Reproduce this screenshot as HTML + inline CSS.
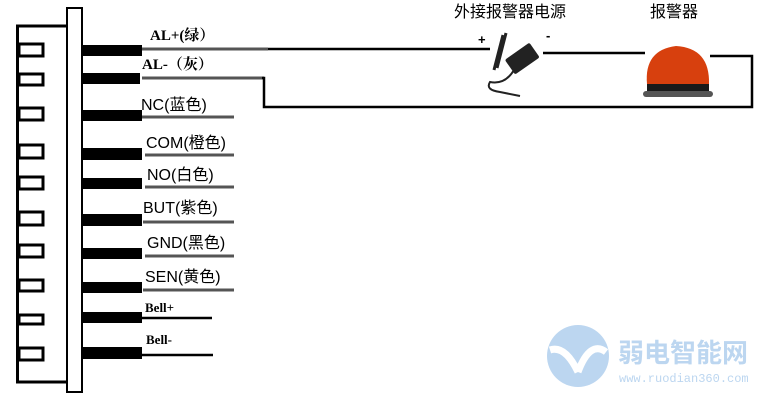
<!DOCTYPE html>
<html><head><meta charset="utf-8"><style>
body{margin:0;background:#fff;width:776px;height:400px;overflow:hidden}
svg{display:block}
.s{font-family:"Liberation Serif","Noto Serif CJK SC",serif;font-weight:bold;font-size:15px}
.a{font-family:"Liberation Sans","Noto Sans CJK SC",sans-serif;font-size:16px}
</style></head><body>
<svg width="776" height="400" viewBox="0 0 776 400">
<rect x="17.5" y="26" width="50" height="356" fill="#fff" stroke="#000" stroke-width="3"/>
<rect x="67" y="8" width="15" height="384" fill="#fff" stroke="#000" stroke-width="2"/>
<g fill="#fff" stroke="#000" stroke-width="3">
<rect x="19" y="44" width="24" height="12"/><rect x="19" y="74" width="24" height="11"/>
<rect x="19" y="108" width="24" height="12"/><rect x="19" y="145" width="24" height="13"/>
<rect x="19" y="177" width="24" height="12"/><rect x="19" y="212" width="24" height="13"/>
<rect x="19" y="245" width="24" height="12"/><rect x="19" y="280" width="24" height="11"/>
<rect x="19" y="315" width="24" height="9"/><rect x="19" y="348" width="24" height="12"/>
</g>
<g fill="#000">
<rect x="82" y="45" width="60" height="11"/><rect x="82" y="73" width="58" height="11"/>
<rect x="82" y="110" width="60" height="11"/><rect x="82" y="148" width="60" height="12"/>
<rect x="82" y="178" width="60" height="11"/><rect x="82" y="214" width="60" height="12"/>
<rect x="82" y="248" width="60" height="11"/><rect x="82" y="282" width="60" height="11"/>
<rect x="82" y="312" width="60" height="11"/><rect x="82" y="347" width="60" height="12"/>
</g>
<g stroke="#555" stroke-width="3">
<line x1="142" y1="49" x2="268" y2="49"/><line x1="142" y1="78" x2="264" y2="78"/>
<line x1="142" y1="117" x2="234" y2="117"/><line x1="145" y1="155" x2="234" y2="155"/>
<line x1="145" y1="187" x2="234" y2="187"/><line x1="143" y1="222" x2="234" y2="222"/>
<line x1="145" y1="256" x2="234" y2="256"/><line x1="143" y1="290" x2="234" y2="290"/>
</g>
<g stroke="#000" stroke-width="2.5" fill="none">
<line x1="142" y1="318" x2="212" y2="318"/><line x1="142" y1="355" x2="213" y2="355"/>
<line x1="268" y1="49" x2="490" y2="49"/>
<polyline points="262,78 264,78 264,107 752,107 752,56 710,56"/>
<line x1="543" y1="53" x2="645" y2="53"/>
</g>
<text class="s" x="150" y="40">AL+(绿）</text>
<text class="s" x="142" y="69">AL-（灰）</text>
<text class="a" x="141" y="110">NC(蓝色)</text>
<text class="a" x="146" y="148">COM(橙色)</text>
<text class="a" x="147" y="180">NO(白色)</text>
<text class="a" x="143" y="213">BUT(紫色)</text>
<text class="a" x="147" y="248">GND(黑色)</text>
<text class="a" x="145" y="282">SEN(黄色)</text>
<text class="s" x="145" y="312" style="font-size:13px">Bell+</text>
<text class="s" x="146" y="344" style="font-size:13px">Bell-</text>
<text class="a" x="454" y="17" style="font-size:16px">外接报警器电源</text>
<text class="a" x="650" y="17" style="font-size:16px">报警器</text>
<text class="a" x="478" y="44" style="font-weight:bold;font-size:13px">+</text>
<text class="a" x="546" y="40" style="font-weight:bold;font-size:13px">-</text>
<g transform="rotate(-35 522 60)"><rect x="508" y="50" width="30" height="18" rx="2" fill="#222"/></g>
<path d="M503,35 L494,70 M506,33 L497,68" stroke="#222" stroke-width="3"/>
<path d="M514,70 Q505,85 490,82 Q485,90 500,92 L520,96" stroke="#222" stroke-width="2" fill="none"/>
<path d="M647,84 Q644,50 676,46 Q710,48 709,84 Z" fill="#d7400e"/>
<rect x="647" y="84" width="62" height="8" fill="#1a1a1a"/>
<rect x="643" y="91" width="70" height="6" rx="3" fill="#555"/>
<circle cx="578" cy="356" r="31" fill="#bcd6f0"/>
<path d="M550,350 Q565,345 578,372 M578,372 Q590,340 606,352" stroke="#fff" stroke-width="7" fill="none"/>
<text x="618" y="362" style="font-family:'Noto Sans CJK SC',sans-serif;font-size:26px;fill:#bcd6f0;font-weight:bold">弱电智能网</text>
<text x="619" y="382" style="font-family:'Liberation Mono',monospace;font-size:12px;fill:#bcd6f0">www.ruodian360.com</text>
</svg>
</body></html>
